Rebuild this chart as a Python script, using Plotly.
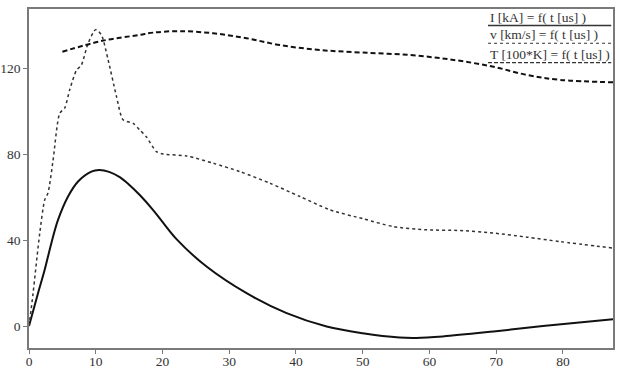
import plotly.graph_objects as go

# Current I [kA]
t_I = [0, 1.35, 2.35, 3.35, 4.35, 5.85, 7.35, 9.35, 10.5, 12, 13.6, 15, 16.6, 18.6, 20, 22.1, 26.6,
       32.6, 38.6, 44.6, 50, 55.5, 58, 62, 69.6, 77, 87.5]
I_vals = [0, 15.3, 26.2, 38.6, 49.4, 60.3, 67.3, 71.9, 72.6, 71.8, 69.3, 65.8, 61, 54, 48.5, 40.5, 27.7,
          15.3, 6, -0.2, -3.3, -5.3, -5.5, -4.8, -2.5, 0, 3.2]

# Velocity v [km/s]
t_v = [0, 0.6, 1.6, 2.35, 2.85, 3.6, 4.6, 5.35, 6.1, 7.1, 7.85, 8.85, 10, 10.85, 11.85, 13.1, 14.1,
       15.6, 16.6, 17.6, 19.1, 20.1, 23.6, 27.6, 31.6, 36.1, 40.6, 45.1, 50, 54.6, 59.6, 64.6, 69.6,
       74.6, 79.6, 87.5]
v_vals = [0, 15, 43, 58.7, 62, 77, 99, 101.5, 110, 119, 121.5, 131.6, 138, 135.5, 124, 107, 96,
          94.4, 91.3, 88, 81.2, 80.1, 79.2, 75.8, 71.9, 66.5, 60.3, 54.1, 50, 46.3, 44.8, 44.5, 43.3,
          41.4, 39.3, 36.3]

# Temperature T [100*K]
t_T = [5, 11, 16.5, 18.6, 22.6, 27.6, 32.6, 37.6, 43.6, 50, 57, 63.6, 69.6, 74.6, 79.6, 87.5]
T_vals = [127.7, 132.8, 135.5, 136.6, 137.3, 136.3, 134, 130.8, 128.5, 127.3, 126.2, 123.9, 120.7,
          116.9, 114.6, 113.5]

legend_labels = ["I [kA] = f( t [us] )", "v [km/s] = f( t [us] )", "T [100*K] = f( t [us] )"]
x_ticks = [0, 10, 20, 30, 40, 50, 60, 70, 80]
y_ticks = [0, 40, 80, 120]

FONT = "Liberation Serif, Times New Roman, serif"

fig = go.Figure()
fig.add_trace(go.Scatter(x=t_I, y=I_vals, mode="lines", name=legend_labels[0],
                         line=dict(color="#111111", width=2, shape="spline", smoothing=1.0)))
fig.add_trace(go.Scatter(x=t_v, y=v_vals, mode="lines", name=legend_labels[1],
                         line=dict(color="#333333", width=1.5, dash="dot", shape="spline", smoothing=0.7)))
fig.add_trace(go.Scatter(x=t_T, y=T_vals, mode="lines", name=legend_labels[2],
                         line=dict(color="#111111", width=2, dash="5px,3px", shape="spline", smoothing=1.0)))

# legend as underlined text (solid / dotted / dashed underline)
label_y = [0.951, 0.899, 0.842]
dashes = ["solid", "dot", "4px,2px"]
for lbl, yy, ds in zip(legend_labels, label_y, dashes):
    fig.add_annotation(x=0.786, y=yy, xref="paper", yref="paper", text=lbl, showarrow=False,
                       xanchor="left", yanchor="bottom", yshift=-1,
                       font=dict(family=FONT, size=13.5, color="#333333"))
    fig.add_shape(type="line", xref="paper", yref="paper", x0=0.786, x1=0.997, y0=yy, y1=yy,
                  line=dict(color="#333333", width=1.5 if ds == "solid" else 1.2, dash=ds))

axis_common = dict(showgrid=False, zeroline=False, showline=True, mirror=True, automargin=False,
                   linecolor="#7a7a7a", linewidth=1.5, ticks="outside", ticklen=4,
                   tickcolor="#7a7a7a", tickfont=dict(family=FONT, size=13.5, color="#333333"))

fig.update_xaxes(range=[0, 87.5], tickvals=x_ticks, ticktext=[str(v) for v in x_ticks],
                 ticklabelstandoff=-4, **axis_common)
fig.update_yaxes(range=[-10.2, 147.6], tickvals=y_ticks, ticktext=[str(v) for v in y_ticks], **axis_common)

fig.update_layout(width=620, height=369, margin=dict(l=29, r=7, t=9, b=21, autoexpand=False),
                  plot_bgcolor="white", paper_bgcolor="white", showlegend=False)

fig.write_html("out.html", config={"displayModeBar": False},
               post_script="document.body.style.margin='0';")
